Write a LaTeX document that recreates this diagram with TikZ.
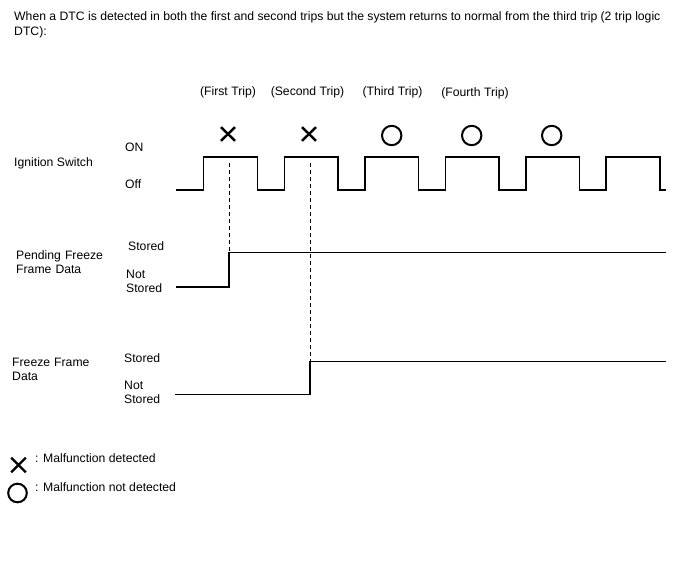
\documentclass[tikz,border=0pt]{standalone}
\usepackage{fontspec}
\setmainfont{Liberation Sans}
\usetikzlibrary{calc}
\begin{document}
\begin{tikzpicture}[x=1pt,y=-1pt,
  txt/.style={anchor=west,inner sep=0pt,font=\fontsize{12.2}{15}\selectfont,align=left},
  ctxt/.style={anchor=center,inner sep=0pt,font=\fontsize{12.2}{15}\selectfont},
  wave/.style={line width=1.6pt},
  mark x/.style={line width=2.4pt},
  mark o/.style={line width=2pt},
  dashline/.style={dashed,line width=0.9pt,dash pattern=on 4pt off 3pt}]
\useasboundingbox (0,0) rectangle (688,560);
% title
\node[txt] (title1) at (14,17) {When a DTC is detected in both the first and second trips but the system returns to normal from the third trip (2 trip logic};
\node[txt] (title2) at (14,32) {DTC):};
% trip labels
\node[ctxt] (t1) at (228,92) {(First Trip)};
\node[ctxt] (t2) at (307.5,92) {(Second Trip)};
\node[ctxt] (t3) at (392.5,92) {(Third Trip)};
\node[ctxt] (t4) at (475,93.5) {(Fourth Trip)};
% row labels
\node[txt] (ign) at (14,163) {Ignition Switch};
\node[txt] (on) at (125,147) {ON};
\node[txt] (off) at (125,184) {Off};
\node[txt,text width=110pt] (pend) at (16,262) {Pending Freeze\\[-1pt]Frame Data};
\node[txt] (ps) at (128,246) {Stored};
\node[txt,text width=60pt] (pns) at (126,281) {Not\\[-1pt]Stored};
\node[txt,text width=110pt] (ffd) at (12,369) {Freeze Frame\\[-1pt]Data};
\node[txt] (fs) at (124,358) {Stored};
\node[txt,text width=60pt] (fns) at (124,392) {Not\\[-1pt]Stored};
% ignition waveform
\draw[wave] (176,190) -- (203.5,190) -- (203.5,157) -- (257.5,157) -- (257.5,190)
  -- (284.5,190) -- (284.5,157) -- (338,157) -- (338,190)
  -- (365,190) -- (365,157) -- (418.5,157) -- (418.5,190)
  -- (445.5,190) -- (445.5,157) -- (499,157) -- (499,190)
  -- (526,190) -- (526,157) -- (579.5,157) -- (579.5,190)
  -- (606,190) -- (606,157) -- (660,157) -- (660,190) -- (665.5,190);
% markers
\coordinate (x1) at (228,134);
\coordinate (x2) at (309,134);
\foreach \c in {x1,x2}{
  \draw[mark x] ($(\c)+(-7,-6.8)$) -- ($(\c)+(7,6.8)$) ($(\c)+(-7,6.8)$) -- ($(\c)+(7,-6.8)$);
}
\draw[mark o] (391.7,135.5) circle (9.7);
\draw[mark o] (471.7,135.5) circle (9.7);
\draw[mark o] (551.7,135.5) circle (9.7);
% pending freeze frame
\coordinate (p1) at (229,252.5);
\coordinate (f1) at (310,361.5);
\draw[wave] (175.5,287) -- (229,287) -- (p1) -- (665.5,252.5);
\draw[wave] (175,394.5) -- (310,394.5) -- (f1) -- (665.5,361.5);
\draw[dashline] (229,163) -- (p1);
\draw[dashline] (310,163) -- (f1);
% legend
\coordinate (lx) at (18.5,465);
\draw[mark x] ($(lx)+(-7.3,-7.3)$) -- ($(lx)+(7.3,7.3)$) ($(lx)+(-7.3,7.3)$) -- ($(lx)+(7.3,-7.3)$);
\node[txt] (l1) at (35,458) {: Malfunction detected};
\draw[mark o] (17.5,493) circle (9.3);
\node[txt] (l2) at (35,487) {: Malfunction not detected};
\end{tikzpicture}
\end{document}
